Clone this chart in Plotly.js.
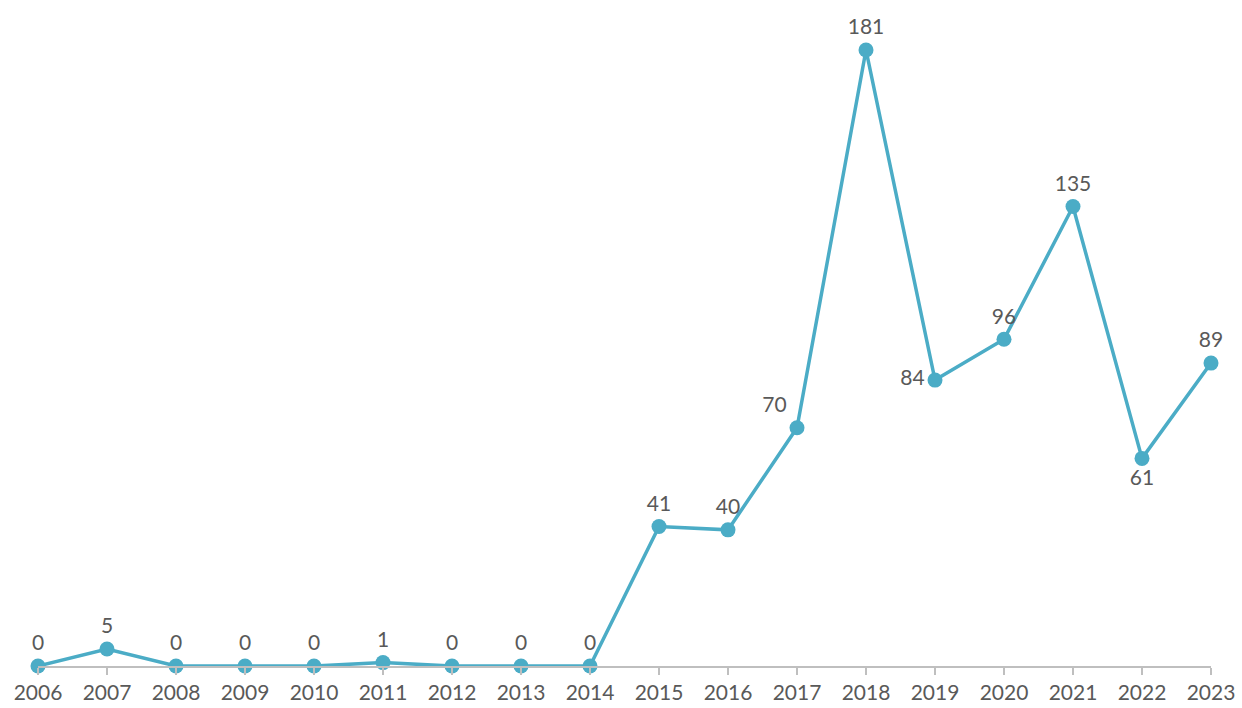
<!DOCTYPE html>
<html><head><meta charset="utf-8">
<script src="https://cdn.plot.ly/plotly-3.0.1.min.js"></script>
<style>html,body{margin:0;padding:0;background:#fff}#chart{width:1242px;height:708px}</style>
</head><body><div id="chart"></div>
<script>
const years = [2006,2007,2008,2009,2010,2011,2012,2013,2014,2015,2016,2017,2018,2019,2020,2021,2022,2023];
const counts = [0,5,0,0,0,1,0,0,0,41,40,70,181,84,96,135,61,89];
const labelPositions = years.map(y => y===2019 ? 'middle left' : (y===2022 ? 'bottom center' : (y===2017 ? 'top left' : 'top center')));

const trace = {
  x: years, y: counts, type: 'scatter', mode: 'lines+markers+text',
  text: counts.map(String), textposition: labelPositions,
  textfont: {family: 'Lato, "Open Sans", sans-serif', size: 21, color: '#595959'},
  line: {color: '#4BACC6', width: 3.5},
  marker: {color: '#4BACC6', size: 15},
  cliponaxis: false, hoverinfo: 'x+y'
};
const layout = {
  width: 1242, height: 708,
  margin: {l: 38, r: 31, t: 50, b: 42},
  paper_bgcolor: '#fff', plot_bgcolor: '#fff',
  showlegend: false,
  font: {family: 'Lato, "Open Sans", sans-serif', size: 21, color: '#595959'},
  xaxis: {range: [2006, 2023], tickmode: 'array', tickvals: years, ticktext: years.map(String),
    showgrid: false, zeroline: false, showline: true, linecolor: '#BFBFBF', linewidth: 1.5,
    ticks: 'outside', ticklen: 7, tickcolor: '#BFBFBF', tickwidth: 1.5,
    tickfont: {size: 21, color: '#595959'}},
  yaxis: {range: [0, 181], visible: false, showgrid: false, zeroline: false, fixedrange: true}
};
Plotly.newPlot('chart', [trace], layout, {displayModeBar: false, staticPlot: true});
</script></body></html>
